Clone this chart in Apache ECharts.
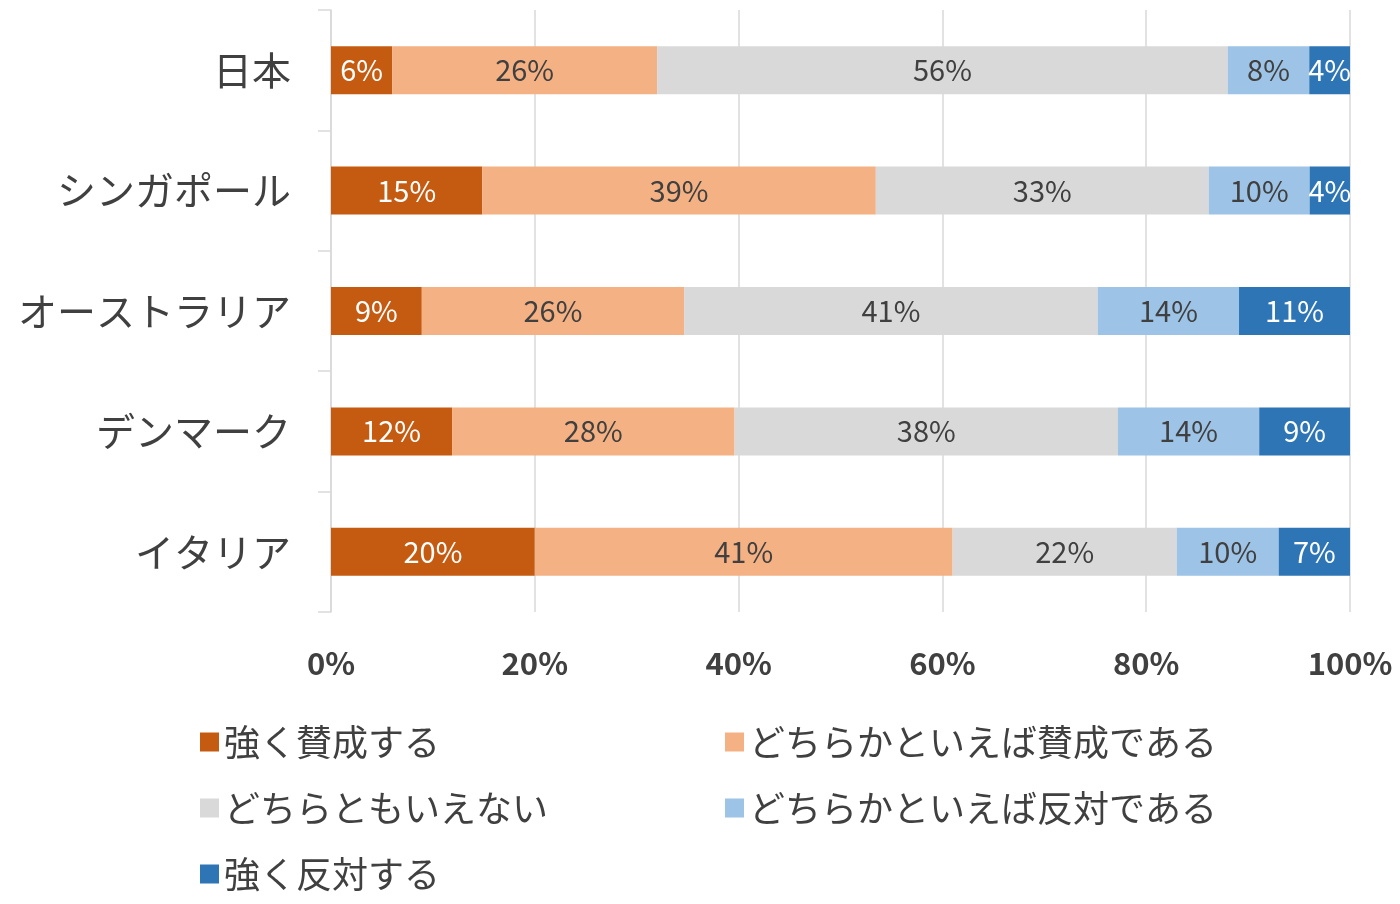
<!DOCTYPE html>
<html>
<head>
<meta charset="utf-8">
<script src="https://cdn.jsdelivr.net/npm/echarts@6/dist/echarts.min.js"></script>
<style>
html,body{margin:0;padding:0;background:#fff;}
#chart{width:1400px;height:904px;}
</style>
</head>
<body>
<div id="chart"></div>
<script>
const categories = ['日本', 'シンガポール', 'オーストラリア', 'デンマーク', 'イタリア'];
const seriesNames = ['強く賛成する', 'どちらかといえば賛成である', 'どちらともいえない', 'どちらかといえば反対である', '強く反対する'];
const stronglyAgree    = [6, 15, 9, 12, 20];
const somewhatAgree    = [26, 39, 26, 28, 41];
const neutral          = [56, 33, 41, 38, 22];
const somewhatDisagree = [8, 10, 14, 14, 10];
const stronglyDisagree = [4, 4, 11, 9, 7];
const xTicks = [0, 20, 40, 60, 80, 100];

const seriesValues = [stronglyAgree, somewhatAgree, neutral, somewhatDisagree, stronglyDisagree];
const colors = ['#C55A11', '#F4B183', '#D9D9D9', '#9DC3E6', '#2E75B6'];
const labelColors = ['#FFFFFF', '#404040', '#404040', '#404040', '#FFFFFF'];
const FONT = '"Noto Sans CJK JP", "Noto Sans", sans-serif';

// 100% stacked: normalise each row to its total
const rowTotals = categories.map((_, i) => seriesValues.reduce((s, arr) => s + arr[i], 0));

const chart = echarts.init(document.getElementById('chart'));
const series = seriesNames.map((name, k) => ({
  name: name,
  type: 'bar',
  stack: 'total',
  barWidth: 48,
  itemStyle: { color: colors[k] },
  label: {
    show: true,
    position: 'inside',
    color: labelColors[k],
    fontFamily: FONT,
    fontSize: 29,
    formatter: p => seriesValues[k][p.dataIndex] + '%'
  },
  emphasis: { disabled: true },
  data: seriesValues[k].map((v, i) => v / rowTotals[i] * 100)
}));

const legendText = { color: '#404040', fontSize: 36, lineHeight: 40, fontFamily: FONT };

chart.setOption({
  backgroundColor: '#FFFFFF',
  animation: false,
  textStyle: { fontFamily: FONT },
  grid: { left: 331, right: 50, top: 10, bottom: 292, containLabel: false },
  xAxis: {
    type: 'value',
    min: xTicks[0],
    max: xTicks[xTicks.length - 1],
    interval: 20,
    axisLine: { show: false },
    axisTick: { show: false },
    splitLine: { show: true, lineStyle: { color: '#D9D9D9', width: 1.5 } },
    axisLabel: {
      formatter: '{value}%',
      color: '#404040',
      fontFamily: FONT,
      fontSize: 31,
      fontWeight: 600,
      margin: 36
    }
  },
  yAxis: {
    type: 'category',
    inverse: true,
    data: categories,
    axisLine: { show: true, lineStyle: { color: '#D9D9D9', width: 1.5 } },
    axisTick: { show: true, length: 13, lineStyle: { color: '#D9D9D9', width: 1.5 } },
    axisLabel: {
      color: '#404040',
      fontFamily: FONT,
      fontSize: 39,
      margin: 40
    }
  },
  legend: [
    {
      data: [seriesNames[0], seriesNames[2], seriesNames[4]],
      orient: 'vertical',
      left: 195,
      top: 717,
      icon: 'rect',
      itemWidth: 19,
      itemHeight: 19,
      itemGap: 26,
      selectedMode: false,
      textStyle: legendText
    },
    {
      data: [seriesNames[1], seriesNames[3]],
      orient: 'vertical',
      left: 720,
      top: 717,
      icon: 'rect',
      itemWidth: 19,
      itemHeight: 19,
      itemGap: 26,
      selectedMode: false,
      textStyle: legendText
    }
  ],
  series: series
});
</script>
</body>
</html>
